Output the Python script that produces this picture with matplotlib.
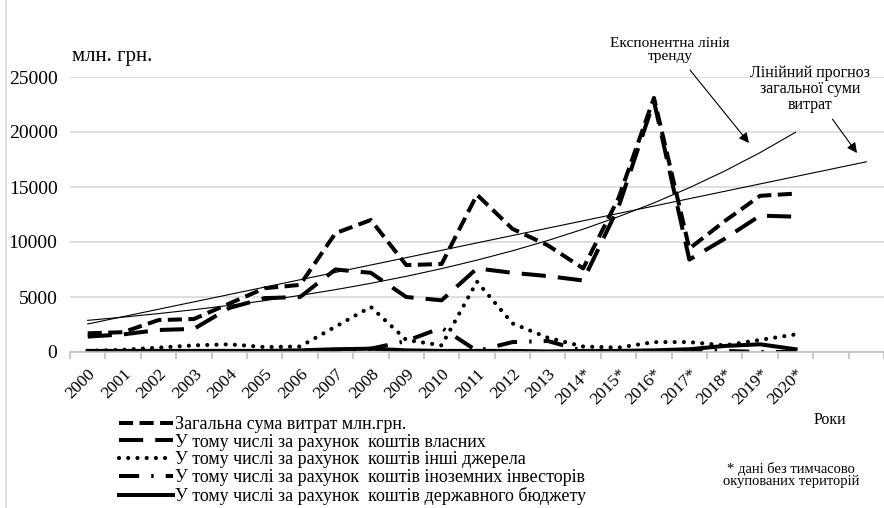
import numpy as np
import matplotlib
matplotlib.use('Agg')
import matplotlib.pyplot as plt
from matplotlib.lines import Line2D

plt.rcParams['font.family'] = ['Liberation Serif', 'DejaVu Serif']

years = ['2000', '2001', '2002', '2003', '2004', '2005', '2006', '2007', '2008', '2009',
         '2010', '2011', '2012', '2013', '2014*', '2015*', '2016*', '2017*', '2018*',
         '2019*', '2020*']
total = [1700, 1800, 2900, 3000, 4400, 5800, 6100, 10800, 12000, 7900,
         8000, 14300, 11200, 9700, 7600, 14000, 23100, 9400, 11900, 14200, 14400]
own = [1400, 1600, 2000, 2100, 4000, 4900, 5000, 7500, 7200, 5000,
       4700, 7600, 7200, 6900, 6500, 13200, 22800, 8400, 10300, 12400, 12300]
other = [100, 200, 400, 600, 700, 450, 500, 2300, 4100, 1100,
         600, 6400, 2600, 1300, 500, 400, 900, 900, 600, 1100, 1600]
foreign = [50, 50, 50, 50, 50, 50, 50, 100, 300, 1000,
           2200, 100, 900, 1000, 100, 50, 50, 50, 100, 0, 0]
budget = [100, 100, 100, 100, 100, 100, 150, 250, 300, 150,
          100, 100, 100, 50, 100, 100, 150, 250, 550, 700, 250]

labels = ['Загальна сума витрат млн.грн.',
          'У тому числі за рахунок  коштів власних',
          'У тому числі за рахунок  коштів інші джерела',
          'У тому числі за рахунок  коштів іноземних інвесторів',
          'У тому числі за рахунок  коштів державного бюджету']

x = np.arange(len(years))

fig = plt.figure(figsize=(8.84, 5.08), dpi=100)
ax = fig.add_axes([70/884, 1-352/508, 814/884, 275/508])

ax.plot(x, total, color='black', lw=2.9, linestyle=(0, (3.5, 1.6)), label=labels[0])
ax.plot(x, own, color='black', lw=2.9, linestyle=(0, (6, 3)), label=labels[1])
ax.plot(x, other, color='black', lw=3.0, linestyle=(0, (0.01, 2.2)),
        dash_capstyle='round', label=labels[2])
ax.plot(x, foreign, color='black', lw=2.9, linestyle=(0, (5, 3, 0.6, 3)), label=labels[3])
ax.plot(x, budget, color='black', lw=2.9, label=labels[4])

# trend lines (as in Excel)
k, b = np.polyfit(x, total, 1)
xl = np.arange(0, len(years) + 2)
ax.plot(xl, k*xl + b, color='black', lw=0.8)
ke, be = np.polyfit(x, np.log(total), 1)
ax.plot(x, np.exp(be + ke*x), color='black', lw=0.8)

ax.set_xlim(-0.5, 22.5)
ax.set_ylim(0, 25000)
ax.set_yticks(np.arange(0, 25001, 5000))
ax.tick_params(axis='y', length=0, labelsize=14, pad=9)
ax.yaxis.grid(True, color='#d9d9d9', lw=1.2)
ax.set_axisbelow(True)
for s in ['top', 'right', 'left']:
    ax.spines[s].set_visible(False)
ax.spines['bottom'].set_color('#bfbfbf')
ax.spines['bottom'].set_linewidth(1.2)

ax.set_xticks(np.arange(-0.5, 23, 1), minor=True)
ax.set_xticks(x)
ax.set_xticklabels(years, rotation=45, ha='right', va='top', rotation_mode='anchor', fontsize=12.5)
ax.tick_params(axis='x', which='major', length=0, pad=10)
ax.tick_params(axis='x', which='minor', length=5, color='#bfbfbf', width=1.2)

fig.text(72/884, 1-57/508, 'млн. грн.', fontsize=15, va='center', ha='left')
fig.text(830/884, 1-420/508, 'Роки', fontsize=11.5, va='center', ha='center')
fig.text(791/884, 1-475/508, '* дані без тимчасово\nокупованих територій', fontsize=10.5,
         va='center', ha='center', linespacing=1.0)

ax.annotate('Експонентна лінія\nтренду', xy=(749/884, 1-143/508), xycoords='figure fraction',
            xytext=(670/884, 1-50/508), textcoords='figure fraction',
            ha='center', va='center', fontsize=11, linespacing=1.0,
            arrowprops=dict(arrowstyle='-|>', color='black', lw=0.8, mutation_scale=15,
                            relpos=(0.62, 0), shrinkA=4, shrinkB=0))
ax.annotate('Лінійний прогноз\nзагальної суми\nвитрат', xy=(857/884, 1-153/508),
            xycoords='figure fraction', xytext=(810/884, 1-89/508), textcoords='figure fraction',
            ha='center', va='center', fontsize=11.5, linespacing=1.0,
            arrowprops=dict(arrowstyle='-|>', color='black', lw=0.8, mutation_scale=15,
                            relpos=(0.65, 0), shrinkA=3, shrinkB=0))

handles, labs = ax.get_legend_handles_labels()
leg = fig.legend(handles, labs, loc='upper left', bbox_to_anchor=(110/884, 1-407/508),
                 frameon=False, fontsize=13, handlelength=3.0, handletextpad=0.1,
                 labelspacing=0.04, borderpad=0)

fig.add_artist(Line2D([6/884, 6/884], [0, 1], color='#d9d9d9', lw=1.2))

fig.savefig('out.png', dpi=100)
